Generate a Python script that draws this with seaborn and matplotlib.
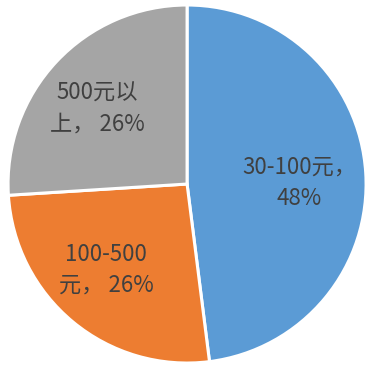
import matplotlib
matplotlib.use("Agg")
import matplotlib.pyplot as plt
import seaborn as sns

# Spending ranges and their shares
categories = ["30-100元，\n48%", "100-500\n元， 26%", "500元以\n上， 26%"]
shares = [48, 26, 26]
colors = ["#5B9BD5", "#ED7D31", "#A5A5A5"]

sns.set_theme(style="white")
plt.rcParams["font.family"] = ["Noto Sans CJK SC", "DejaVu Sans"]

fig = plt.figure(figsize=(3.65, 3.65), dpi=100)
ax = fig.add_axes([0, 0, 1, 1])

wedges, texts = ax.pie(
    shares,
    labels=categories,
    colors=colors,
    startangle=90,
    counterclock=False,
    labeldistance=0.65,
    wedgeprops=dict(edgecolor="white", linewidth=2.2),
    textprops=dict(color="#404040", fontsize=16, ha="center", va="center",
                   linespacing=1.45),
)

# nudge labels slightly off the wedge bisectors
nudges = [(-0.023, -0.035), (-0.039, 0.021), (-0.029, -0.026)]
for t, (dx, dy) in zip(texts, nudges):
    x, y = t.get_position()
    t.set_position((x + dx, y + dy))

ax.set_aspect("equal")
ax.set_xlim(-1.045, 0.994)
ax.set_ylim(-1.011, 1.028)
ax.axis("off")

fig.savefig("out.png", dpi=100, facecolor="white")
